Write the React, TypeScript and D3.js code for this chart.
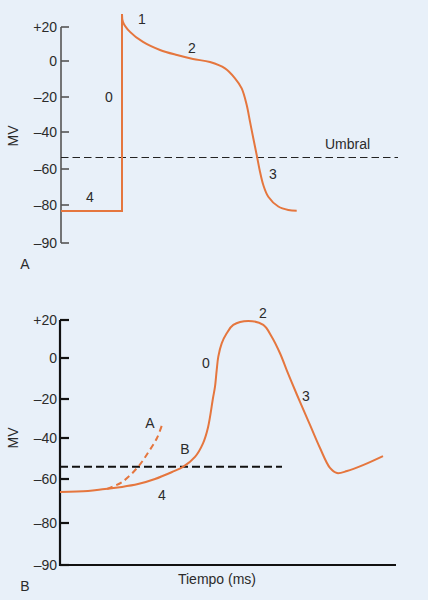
import React from "react";
import * as d3 from "d3";

// ---- data ----
const tickValues = [20, 0, -20, -40, -60, -80, -90];
const tickLabels = ["+20", "0", "\u201320", "\u201340", "\u201360", "\u201380", "\u201390"];

// Panel A: ventricular action potential (time in ms, voltage in mV)
const timeA = [0, 61, 61, 62, 69, 82, 99, 116, 132, 149, 164, 174, 180.7, 185.7, 189, 192.3, 195.7, 199, 202.3, 207.3, 217.3, 227.3, 235.7];
const voltA = [-81.6, -81.6, 27.6, 22.9, 17.1, 11.2, 6.5, 3.5, 1.2, -0.6, -4.1, -9.6, -15.2, -24.6, -34.1, -43.4, -52.4, -61.5, -68.9, -75.4, -80.4, -81.3, -81.5];
const thresholdA = -53.5;
const thresholdSpanA = [0, 337];
const phaseLabelsA = ["1", "2", "0", "4", "3"];
const phaseTimeA = [81, 131, 48, 29, 212];
const phaseVoltA = [24.7, 7.6, -20, -75.8, -62.8];

// Panel B: pacemaker action potential
const timeB = [0, 28, 45, 62, 78, 95, 112, 123, 135, 143, 148, 153, 155, 156.7, 158.3, 161.7, 166.7, 173.3, 188.3, 203.3, 211.7, 220, 226.7, 230.7, 240, 250, 260, 270, 277, 287, 303, 323];
const voltB = [-65.9, -65.5, -64.5, -63.6, -62.3, -60, -56.6, -54.1, -49.2, -42.6, -34.6, -19.5, -14, -5.9, 0.7, 7.7, 13, 17.4, 19.5, 17.4, 11.2, 2.5, -5.9, -10.7, -21.5, -33.3, -44.9, -54.6, -57.1, -56.1, -53.2, -48.8];
const timeBFast = [47, 62, 78, 88, 97, 102];
const voltBFast = [-64.5, -61.4, -54.1, -47.2, -40, -33.3];
const thresholdB = -54;
const thresholdSpanB = [0, 222];
const phaseLabelsB = ["0", "2", "3", "A", "B", "4"];
const phaseTimeB = [146, 203, 246, 90, 125, 102];
const phaseVoltB = [-2.4, 23.7, -18.5, -32.3, -45.4, -67.3];

const FONT = "'Liberation Sans', Arial, Helvetica, sans-serif";
const ORANGE = "#E5763E";
const TEXT = "#2b2b2b";

export default function App() {
  // scales (polylinear y to follow the tick spacing of the figure)
  const yA = d3.scaleLinear().domain([-90, -80, -60, -40, -20, 0, 20]).range([243, 205, 169, 132, 97, 61, 27]);
  const xA = d3.scaleLinear().domain([0, 340]).range([61, 401]);
  const yB = d3.scaleLinear().domain([-90, -80, -60, -40, -20, 0, 20]).range([565, 523, 479, 438, 399, 358, 320]);
  const xB = d3.scaleLinear().domain([0, 336]).range([60, 396]);

  const ptsA = timeA.map((t, i) => [t, voltA[i]] as [number, number]);
  const lineALin = d3.line<[number, number]>().x(d => xA(d[0])).y(d => yA(d[1]));
  const lineACurve = d3.line<[number, number]>().x(d => xA(d[0])).y(d => yA(d[1])).curve(d3.curveCatmullRom.alpha(0.5));
  const pathA = (lineALin(ptsA.slice(0, 3)) || "") + (lineACurve(ptsA.slice(2)) || "").replace(/^M[^A-Za-z]*/, "");

  const ptsB = timeB.map((t, i) => [t, voltB[i]] as [number, number]);
  const ptsBFast = timeBFast.map((t, i) => [t, voltBFast[i]] as [number, number]);
  const lineB = d3.line<[number, number]>().x(d => xB(d[0])).y(d => yB(d[1])).curve(d3.curveCatmullRom.alpha(0.5));

  return (
    <svg width={428} height={600} style={{ position: "absolute", left: 0, top: 0, display: "block" }} fontFamily={FONT}>
      <rect x={0} y={0} width={428} height={600} fill="#E8F0F9" />

      {/* ---------- Panel A ---------- */}
      <g>
        <line x1={61} x2={61} y1={yA(20)} y2={yA(-90)} stroke="#555" strokeWidth={1.6} />
        {tickValues.map((v, i) => (
          <g key={"ta" + i}>
            <line x1={61} x2={69} y1={yA(v)} y2={yA(v)} stroke="#555" strokeWidth={1.6} />
            <text x={57} y={yA(v)} dy="0.36em" textAnchor="end" fontSize={14} fill={TEXT}>{tickLabels[i]}</text>
          </g>
        ))}
        <text transform={`translate(18,${yA(-40) + 4}) rotate(-90)`} textAnchor="middle" fontSize={14} fill={TEXT}>MV</text>
        <text x={25} y={yA(-90) + 26} textAnchor="middle" fontSize={14} fill={TEXT}>A</text>

        <line x1={xA(thresholdSpanA[0])} x2={xA(thresholdSpanA[1])} y1={Math.round(yA(thresholdA)) + 0.5} y2={Math.round(yA(thresholdA)) + 0.5}
          stroke="#222" strokeWidth={1.1} strokeDasharray="7.5,4" />
        <text x={xA(264)} y={yA(-49.2)} fontSize={14} fill={TEXT}>Umbral</text>

        <path d={pathA} fill="none" stroke={ORANGE} strokeWidth={2} strokeLinejoin="miter" />

        {phaseLabelsA.map((s, i) => (
          <text key={"pa" + i} x={xA(phaseTimeA[i])} y={yA(phaseVoltA[i])} dy="0.36em" textAnchor="middle" fontSize={14} fill={TEXT}>{s}</text>
        ))}
      </g>

      {/* ---------- Panel B ---------- */}
      <g>
        <line x1={60} x2={60} y1={yB(20)} y2={yB(-90) + 1} stroke="#111" strokeWidth={2.2} />
        <line x1={59} x2={xB(336)} y1={yB(-90)} y2={yB(-90)} stroke="#111" strokeWidth={2.2} />
        {tickValues.map((v, i) => (
          <g key={"tb" + i}>
            <line x1={60} x2={69} y1={yB(v)} y2={yB(v)} stroke="#111" strokeWidth={2.2} />
            <text x={57} y={yB(v)} dy="0.36em" textAnchor="end" fontSize={14} fill={TEXT}>{tickLabels[i]}</text>
          </g>
        ))}
        <text transform={`translate(18,${yB(-40)}) rotate(-90)`} textAnchor="middle" fontSize={14} fill={TEXT}>MV</text>
        <text x={25} y={yB(-90) + 26} textAnchor="middle" fontSize={14} fill={TEXT}>B</text>
        <text x={xB(157)} y={yB(-90) + 19} textAnchor="middle" fontSize={14} fill={TEXT}>Tiempo (ms)</text>

        <line x1={xB(thresholdSpanB[0])} x2={xB(thresholdSpanB[1])} y1={yB(thresholdB)} y2={yB(thresholdB)}
          stroke="#111" strokeWidth={2} strokeDasharray="8,4" />

        <path d={lineB(ptsBFast) || ""} fill="none" stroke={ORANGE} strokeWidth={2} strokeDasharray="6,4" />
        <path d={lineB(ptsB) || ""} fill="none" stroke={ORANGE} strokeWidth={2} />

        {phaseLabelsB.map((s, i) => (
          <text key={"pb" + i} x={xB(phaseTimeB[i])} y={yB(phaseVoltB[i])} dy="0.36em" textAnchor="middle" fontSize={14} fill={TEXT}>{s}</text>
        ))}
      </g>
    </svg>
  );
}
